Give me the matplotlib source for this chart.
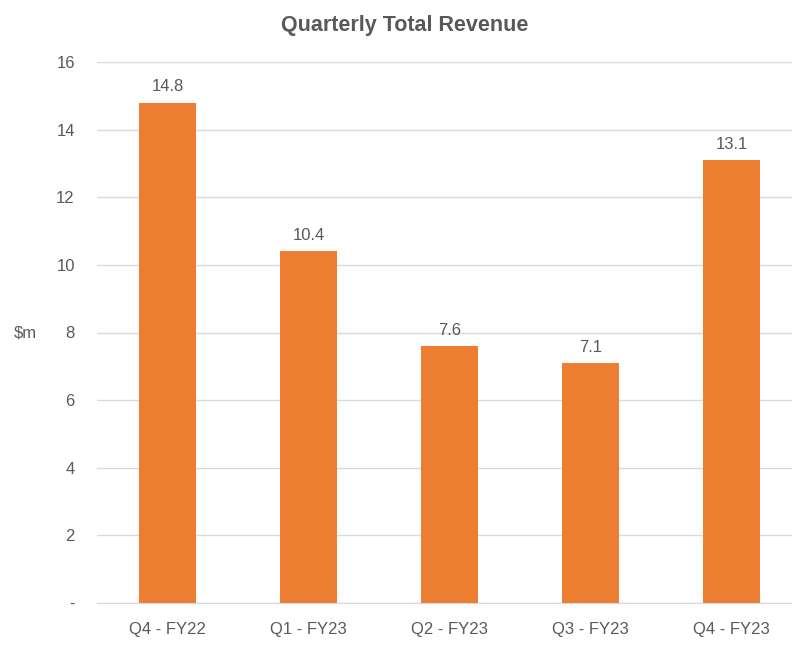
import matplotlib.pyplot as plt
from matplotlib.ticker import FuncFormatter

quarters = ["Q4 - FY22", "Q1 - FY23", "Q2 - FY23", "Q3 - FY23", "Q4 - FY23"]
revenue = [14.8, 10.4, 7.6, 7.1, 13.1]

plt.rcParams['font.family'] = ['Liberation Sans', 'DejaVu Sans']
text_color = '#595959'

fig = plt.figure(figsize=(7.92, 6.5), dpi=100)
ax = fig.add_axes([97 / 792, 1 - 603 / 650, 705 / 792, 541 / 650])

x = range(len(quarters))
bars = ax.bar(x, revenue, width=0.4, color='#ED7D31', zorder=3)

# value labels above bars
for xi, v in zip(x, revenue):
    ax.annotate(f"{v:.1f}", (xi, v), xytext=(0, 6), textcoords='offset points',
                ha='center', va='bottom', fontsize=12, color=text_color)

ax.set_xlim(-0.5, len(quarters) - 0.5)
ax.set_ylim(0, 16)
ax.set_yticks(range(0, 17, 2))
ax.yaxis.set_major_formatter(FuncFormatter(lambda v, p: '-' if v == 0 else f"{v:.0f}"))
ax.set_xticks(list(x))
ax.set_xticklabels(quarters)

ax.grid(axis='y', color='#D9D9D9', linewidth=1, zorder=0)
for s in ['top', 'right', 'left']:
    ax.spines[s].set_visible(False)
ax.spines['bottom'].set_color('#D9D9D9')
ax.tick_params(axis='both', length=0, labelsize=12, labelcolor=text_color)
ax.tick_params(axis='y', pad=16)
ax.tick_params(axis='x', pad=14)

ax.set_ylabel('$m', rotation=0, fontsize=12, color=text_color, va='center', ha='center')
ax.yaxis.set_label_coords((25 - 97) / 705, (603 - 333) / 541)

fig.text(405 / 792, 1 - 26 / 650, 'Quarterly Total Revenue', ha='center', va='center',
         fontsize=15.5, fontweight='bold', color=text_color)

fig.savefig('out.png', dpi=100)
